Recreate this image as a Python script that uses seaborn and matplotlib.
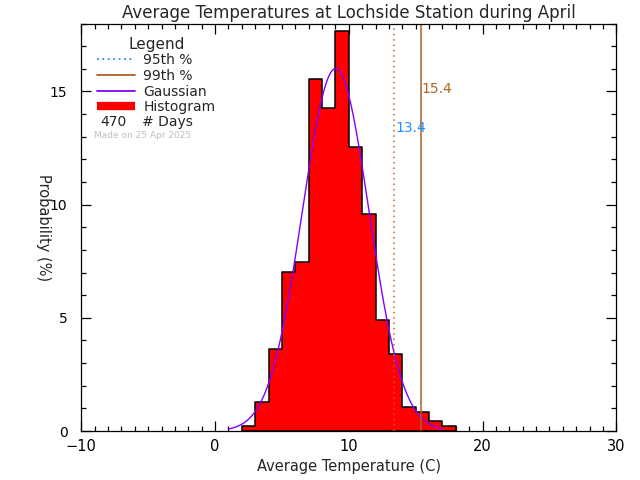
import numpy as np
import pandas as pd
import matplotlib
matplotlib.use("Agg")
import matplotlib.pyplot as plt
from matplotlib.lines import Line2D
from matplotlib.ticker import MultipleLocator
import seaborn as sns

# Histogram of daily average temperatures (1 C bins), counts of days
bin_edges = list(range(2, 19))
day_counts = [1, 6, 17, 33, 35, 73, 67, 83, 59, 45, 23, 16, 5, 4, 2, 1]
n_days = 470
pct_95 = 13.4
pct_99 = 15.4
station = "Lochside"
month = "April"
made_on = "25 Apr 2025"

centers = np.array(bin_edges[:-1]) + 0.5
counts = np.array(day_counts)
prob = counts / n_days * 100.0
df = pd.DataFrame({"temp": centers, "prob": prob})

# gaussian fit from the histogram moments
mu = np.sum(centers * counts) / counts.sum()
sd = np.sqrt(np.sum(counts * (centers - mu) ** 2) / counts.sum())
gx = np.linspace(1.0, 17.0, 200)
gy = 100.0 / (sd * np.sqrt(2 * np.pi)) * np.exp(-0.5 * ((gx - mu) / sd) ** 2)

sns.set_style("ticks")
plt.rcParams["font.family"] = ["DejaVu Sans"]

fig = plt.figure(figsize=(6.4, 4.8), dpi=100)
ax = fig.add_axes([0.127, 0.102, 0.836, 0.849])

sns.histplot(data=df, x="temp", weights="prob", bins=bin_edges, element="step",
             fill=True, color="red", alpha=1.0, edgecolor="black", linewidth=1.1, ax=ax)
sns.lineplot(x=gx, y=gy, color="#8000ff", linewidth=1.0, ax=ax)

ax.axvline(pct_95, color="#c8641e", linestyle=(0, (1, 2.5)), linewidth=1.1)
ax.axvline(pct_99, color="#a8602a", linewidth=1.1)
ax.text(pct_95 + 0.05, 13.4, f"{pct_95:.1f}", color="#1e8fff", fontsize=10, va="center")
ax.text(pct_99 + 0.05, 15.1, f"{pct_99:.1f}", color="#b0641e", fontsize=10, va="center")

ax.set_xlim(-10, 30)
ax.set_ylim(0, 18)
ax.xaxis.set_major_locator(MultipleLocator(10))
ax.xaxis.set_minor_locator(MultipleLocator(1))
ax.yaxis.set_major_locator(MultipleLocator(5))
ax.yaxis.set_minor_locator(MultipleLocator(1))
ax.tick_params(which="both", direction="in", top=True, right=True, colors="black", labelsize=10.5)
ax.tick_params(which="major", length=7.5, width=0.9)
ax.tick_params(which="minor", length=3.8, width=0.9)
ax.tick_params(axis="x", which="major", pad=6)
ax.tick_params(axis="y", which="major", pad=10, labelsize=10)
for s in ax.spines.values():
    s.set_linewidth(0.9)
    s.set_color("black")

ax.set_title(f"Average Temperatures at {station} Station during {month}", fontsize=12, pad=4)
ax.set_xlabel("Average Temperature (C)", fontsize=10.5, labelpad=3)
ax.set_ylabel("Probability (%)", fontsize=10.5, rotation=-90, labelpad=10)

handles = [
    Line2D([], [], color="#1e8fff", linestyle=(0, (1, 2)), linewidth=1.3),
    Line2D([], [], color="#a8602a", linewidth=1.3),
    Line2D([], [], color="#8000ff", linewidth=1.3),
    Line2D([], [], color="red", linewidth=6, solid_capstyle="butt"),
]
labels = ["95th %", "99th %", "Gaussian", "Histogram"]
leg = ax.legend(handles, labels, title="Legend", loc="upper left", bbox_to_anchor=(0.012, 0.992),
                frameon=False, fontsize=10, title_fontsize=11, handlelength=2.7,
                labelspacing=0.12, handletextpad=0.6, borderaxespad=0.3)
ax.text(0.036, 0.759, f"{n_days}", transform=ax.transAxes, fontsize=10, va="center")
ax.text(0.114, 0.759, "# Days", transform=ax.transAxes, fontsize=10, va="center")
ax.text(0.024, 0.724, f"Made on {made_on}", transform=ax.transAxes, fontsize=6.5,
        color="#c0c0c0", va="center")

fig.savefig("out.png", dpi=100)
